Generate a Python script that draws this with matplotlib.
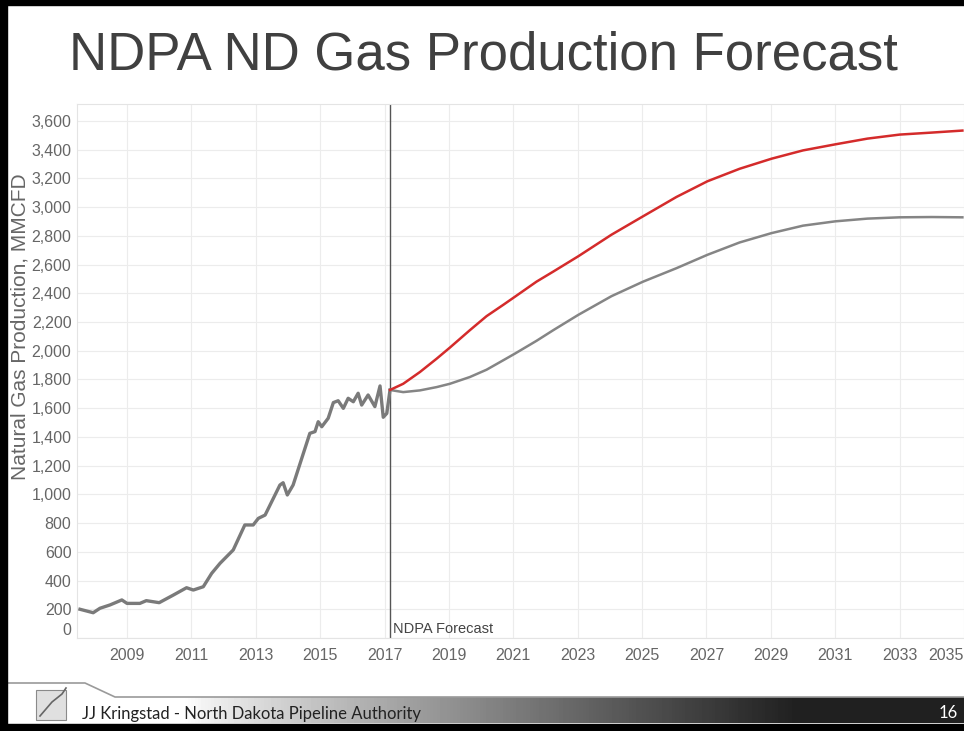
import numpy as np
import matplotlib.pyplot as plt
from matplotlib import font_manager
from matplotlib.lines import Line2D
from matplotlib.patches import Rectangle

# Исторические данные (год, MMCFD)
hist_year = [2007.54, 2007.95, 2008.16, 2008.47, 2008.84, 2009.0, 2009.4, 2009.6,
             2010.0, 2010.44, 2010.85, 2011.06, 2011.37, 2011.63, 2011.89, 2012.3,
             2012.66, 2012.92, 2013.08, 2013.29, 2013.75, 2013.85, 2013.98, 2014.16,
             2014.68, 2014.84, 2014.94, 2015.05, 2015.25, 2015.41, 2015.56, 2015.72,
             2015.87, 2016.03, 2016.18, 2016.29, 2016.49, 2016.7, 2016.86, 2016.96,
             2017.07, 2017.17]
hist_value = [200, 176, 207, 230, 265, 241, 241, 260,
              246, 299, 350, 334, 357, 450, 520, 613,
              787, 787, 833, 856, 1065, 1081, 996, 1065,
              1425, 1437, 1506, 1471, 1530, 1639, 1652, 1599,
              1669, 1645, 1704, 1622, 1692, 1611, 1755, 1537,
              1564, 1727]

# Прогноз NDPA: базовый (серый) и высокий (красный)
fc_year = [2017.17, 2017.58, 2018.10, 2018.62, 2019.03, 2019.65, 2020.17, 2020.69,
           2021.05, 2021.72, 2022.24, 2023.02, 2024.05, 2025.03, 2026.07, 2027.03,
           2028.03, 2029.02, 2030.0, 2031.0, 2032.0, 2033.0, 2034.0, 2034.95]
fc_base = [1727, 1712, 1724, 1747, 1770, 1817, 1868, 1934,
           1980, 2069, 2143, 2250, 2380, 2481, 2575, 2668,
           2754, 2819, 2871, 2901, 2920, 2929, 2931, 2929]
fc_high = [1727, 1770, 1852, 1945, 2022, 2143, 2241, 2320,
           2376, 2481, 2551, 2658, 2808, 2936, 3071, 3180,
           3267, 3337, 3395, 3437, 3477, 3505, 3519, 3533]

forecast_start = 2017.17
x_ticks = [2009, 2011, 2013, 2015, 2017, 2019, 2021, 2023, 2025, 2027, 2029, 2031, 2033, 2035]
y_ticks = list(range(0, 3601, 200))

installed = {f.name for f in font_manager.fontManager.ttflist}
if "Liberation Sans Narrow" in installed:
    title_font, title_size = "Liberation Sans Narrow", 46
else:
    title_font, title_size = "Liberation Sans", 38

W, H = 964, 731
fig = plt.figure(figsize=(W / 100, H / 100), dpi=100)
fig.patch.set_facecolor("white")

ax = fig.add_axes([77 / W, (H - 638) / H, (W - 77) / W, (638 - 104) / H])
ax.set_xlim(2007.447, 2034.99)
ax.set_ylim(0, 3718)

ax.plot(hist_year, hist_value, color="#7a7a7a", linewidth=2.4, solid_joinstyle="round", zorder=3)
ax.plot(fc_year, fc_base, color="#858585", linewidth=1.8, solid_joinstyle="round", zorder=3)
ax.plot(fc_year, fc_high, color="#d42b2b", linewidth=1.8, solid_joinstyle="round", zorder=4)
ax.axvline(forecast_start, color="#555555", linewidth=1.0, zorder=2)
ax.text(forecast_start + 0.08, 60, "NDPA Forecast", fontsize=10.5, color="#444444",
        family="Liberation Sans", va="center", ha="left")

ax.set_xticks(x_ticks)
ax.set_yticks(y_ticks)
ax.set_xticklabels([str(y) for y in x_ticks])
ax.set_yticklabels([f"{v:,}" for v in y_ticks])
ax.grid(True, color="#ececec", linewidth=0.8, zorder=0)
ax.tick_params(axis="both", length=0, labelcolor="#666666", labelsize=11.5)
ax.tick_params(axis="x", pad=7)
ax.tick_params(axis="y", pad=4)
for lbl in ax.get_xticklabels() + ax.get_yticklabels():
    lbl.set_family("Liberation Sans")
ax.get_xticklabels()[-1].set_horizontalalignment("right")
ax.get_yticklabels()[0].set_verticalalignment("bottom")
for side in ["top", "bottom", "left"]:
    ax.spines[side].set_color("#e4e4e4")
    ax.spines[side].set_linewidth(0.8)
ax.spines["right"].set_visible(False)

fig.text(20 / W, 1 - 327 / H, "Natural Gas Production, MMCFD", rotation=90,
         fontsize=15, color="#666666", family="Liberation Sans", ha="center", va="center")

fig.text(483 / W, 1 - 55 / H, "NDPA ND Gas Production Forecast", fontsize=title_size,
         color="#404040", family=title_font, ha="center", va="center")

# Нижний колонтитул
over = fig.add_axes([0, 0, 1, 1], zorder=10)
over.set_xlim(0, W)
over.set_ylim(H, 0)
over.axis("off")
over.patch.set_alpha(0)

grad = np.linspace(0, 1, 256)
shade = np.clip((grad - 0.08) / 0.72, 0, 1)
img = 1 - 0.87 * shade ** 0.85
over.imshow(np.tile(img, (2, 1)), cmap="gray", vmin=0, vmax=1, aspect="auto",
            extent=(115, W, 723, 697), zorder=1)
over.add_line(Line2D([8, 85, 115, W], [683, 683, 697, 697], color="#9a9a9a", linewidth=1.2, zorder=2))
over.add_patch(Rectangle((36, 690), 30, 30, facecolor="#e0e0e0", edgecolor="#8a8a8a", linewidth=0.8, zorder=2))
over.add_line(Line2D([40, 52, 62, 66], [716, 702, 694, 688], color="#666666", linewidth=1.2, zorder=3))
over.text(82, 714, "JJ Kringstad - North Dakota Pipeline Authority", fontsize=12,
          family="Lato", color="#222222", va="center", ha="left", zorder=3)
over.text(948, 713, "16", fontsize=12, family="Lato", color="white",
          va="center", ha="center", zorder=3)

# Рамка слайда
over.add_patch(Rectangle((0, 0), W, 5, color="black", zorder=5))
over.add_patch(Rectangle((0, 0), 7, H, color="black", zorder=5))
over.add_patch(Rectangle((0, 724), W, 7, color="black", zorder=5))

fig.savefig("out.png", dpi=100)
